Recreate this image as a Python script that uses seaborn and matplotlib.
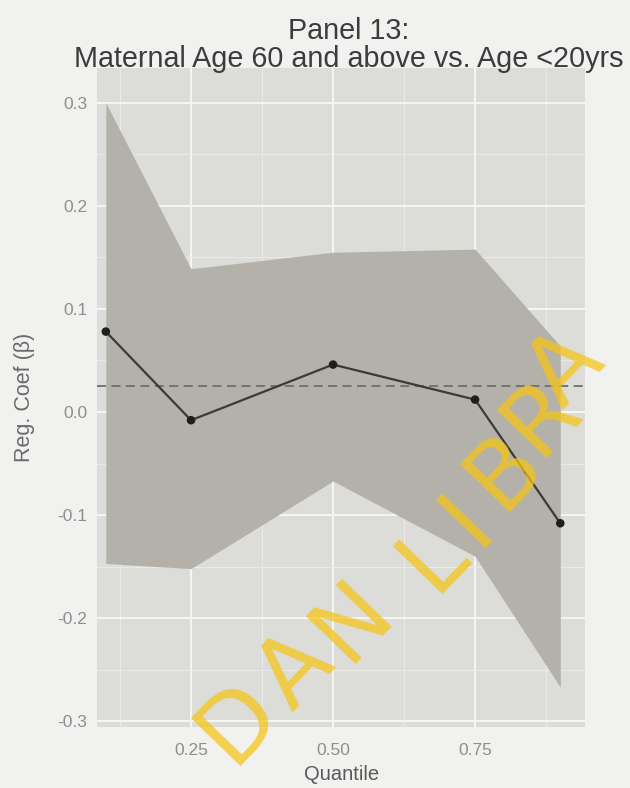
import matplotlib
matplotlib.use("Agg")
import matplotlib.pyplot as plt
import seaborn as sns
import pandas as pd
from matplotlib.ticker import MultipleLocator

# Quantile regression estimates with confidence band
quantiles = [0.10, 0.25, 0.50, 0.75, 0.90]
coef = [0.078, -0.008, 0.046, 0.012, -0.108]
ci_upper = [0.300, 0.139, 0.155, 0.158, 0.064]
ci_lower = [-0.147, -0.152, -0.067, -0.140, -0.267]
ols_coef = 0.025

x_ticks = [0.25, 0.50, 0.75]
x_tick_labels = ["0.25", "0.50", "0.75"]
y_ticks = [-0.3, -0.2, -0.1, 0.0, 0.1, 0.2, 0.3]
y_tick_labels = ["-0.3", "-0.2", "-0.1", "0.0", "0.1", "0.2", "0.3"]

# library stamp letters and their centres (figure pixels from top-left)
stamp_letters = ["D", "A", "N", "L", "I", "B", "R", "A"]
stamp_px = [(238, 722), (296, 672), (353, 621), (433, 557),
            (468, 520), (505, 471), (542, 416), (566, 370)]

df = pd.DataFrame({"Quantile": quantiles, "coef": coef,
                   "lo": ci_lower, "hi": ci_upper})

sns.set_theme(style="darkgrid", rc={
    "axes.facecolor": "#dcdcd9",
    "figure.facecolor": "#f1f1ef",
    "grid.color": "#f6f6f4",
    "axes.edgecolor": "#dcdcd9",
})
plt.rcParams["font.family"] = ["Liberation Sans", "DejaVu Sans"]

W, H = 630, 788
fig = plt.figure(figsize=(W / 100, H / 100), dpi=100)
ax = fig.add_axes([0.154, 0.077, 0.775, 0.837])

ax.fill_between(df["Quantile"], df["lo"], df["hi"], color="#b4b1aa",
                linewidth=0, zorder=2)
ax.axhline(ols_coef, color="#6e6e6e", linestyle=(0, (5, 3)), linewidth=1.3,
           zorder=3)
sns.lineplot(data=df, x="Quantile", y="coef", ax=ax, color="#3a3a38",
             linewidth=1.6, zorder=4)
sns.scatterplot(data=df, x="Quantile", y="coef", ax=ax, color="#1e1e1e",
                s=38, edgecolor="none", zorder=5)

ax.set_xlim(0.0845, 0.944)
ax.set_ylim(-0.306, 0.334)
ax.set_xticks(x_ticks)
ax.set_xticklabels(x_tick_labels)
ax.set_yticks(y_ticks)
ax.set_yticklabels(y_tick_labels)
ax.xaxis.set_minor_locator(MultipleLocator(0.125))
ax.yaxis.set_minor_locator(MultipleLocator(0.05))
ax.grid(which="major", color="#f6f6f4", linewidth=1.4)
ax.grid(which="minor", color="#eaeae8", linewidth=0.7)
ax.set_axisbelow(True)
for sp in ax.spines.values():
    sp.set_visible(False)

ax.tick_params(axis="both", which="major", length=4, width=1,
               color="#9a9a9a", labelcolor="#8e8e8e", labelsize=12.5)
ax.tick_params(axis="x", which="major", pad=7)
ax.tick_params(axis="y", which="major", pad=3)
ax.tick_params(axis="both", which="minor", length=0)
ax.set_xlabel("Quantile", fontsize=14.5, color="#5a5a5a", labelpad=5)
ax.set_ylabel("Reg. Coef (\u03b2)", fontsize=15.5, color="#6a6a6a",
              labelpad=16)

fig.text(0.553, 0.978, "Panel 13:\nMaternal Age 60 and above vs. Age <20yrs",
         ha="center", va="top", fontsize=20.7, color="#3c3c3c",
         linespacing=1.0)

for ch, (px, py) in zip(stamp_letters, stamp_px):
    fig.text(px / W, 1 - py / H, ch, rotation=46, ha="center", va="center",
             rotation_mode="anchor", fontsize=68, color="#f5c518",
             alpha=0.75, family=["DejaVu Sans"], zorder=10)

fig.savefig("out.png", dpi=100, facecolor=fig.get_facecolor())
